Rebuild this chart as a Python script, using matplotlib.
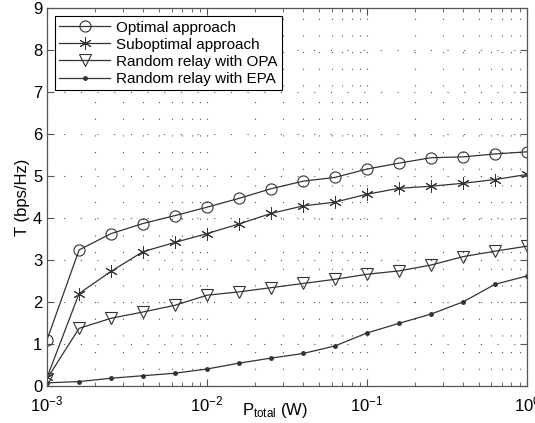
import matplotlib.pyplot as plt
import numpy as np

plt.rcParams['font.family'] = ['Liberation Sans', 'DejaVu Sans']
plt.rcParams['mathtext.fontset'] = 'custom'
plt.rcParams['mathtext.rm'] = 'Liberation Sans'
plt.rcParams['mathtext.it'] = 'Liberation Sans'

# transmit power points (W), 5 per decade
p_exp = [-3.0, -2.8, -2.6, -2.4, -2.2, -2.0, -1.8, -1.6, -1.4, -1.2,
         -1.0, -0.8, -0.6, -0.4, -0.2, 0.0]
p_total = [10 ** e for e in p_exp]

optimal = [1.10, 3.24, 3.63, 3.87, 4.06, 4.26, 4.47, 4.70, 4.88, 4.97,
           5.17, 5.31, 5.44, 5.46, 5.53, 5.58]
suboptimal = [0.20, 2.20, 2.73, 3.20, 3.42, 3.63, 3.86, 4.11, 4.29, 4.38,
              4.57, 4.71, 4.76, 4.83, 4.92, 5.04]
random_opa = [0.17, 1.37, 1.61, 1.76, 1.92, 2.16, 2.24, 2.34, 2.44, 2.54,
              2.66, 2.74, 2.88, 3.08, 3.21, 3.33]
random_epa = [0.07, 0.10, 0.18, 0.24, 0.30, 0.40, 0.54, 0.66, 0.77, 0.95,
              1.26, 1.49, 1.71, 2.00, 2.42, 2.62]

fig = plt.figure(figsize=(5.35, 4.23), dpi=100)
ax = fig.add_axes([0.088, 0.088, 0.897, 0.892])

lc = '#333333'
ax.plot(p_total, optimal, '-o', color=lc, lw=0.9, ms=8, mfc='none', mec=lc, mew=0.8,
        label='Optimal approach')
ax.plot(p_total, suboptimal, '-', marker=(6, 2, 0), color=lc, lw=0.9, ms=9, mec=lc, mew=0.7,
        label='Suboptimal approach')
ax.plot(p_total, random_opa, '-v', color=lc, lw=0.9, ms=8, mfc='none', mec=lc, mew=0.8,
        label='Random relay with OPA')
ax.plot(p_total, random_epa, '-', marker='.', color=lc, lw=0.9, ms=5,
        label='Random relay with EPA')

ax.set_xscale('log')
ax.set_xlim(1e-3, 1)
ax.set_ylim(0, 9)
ax.set_yticks(range(10))
ax.set_xticks([1e-3, 1e-2, 1e-1, 1])

dots = (0, (1, 14))
ax.grid(True, which='major', linestyle=dots, color='#555555', lw=0.8)
ax.grid(True, which='minor', axis='x', linestyle=dots, color='#555555', lw=0.8)
ax.tick_params(which='both', direction='in', top=True, right=True, labelsize=12,
               color='#555555')
ax.tick_params(which='major', length=5)
ax.tick_params(which='minor', length=3)
ax.tick_params(axis='x', pad=6)
for s in ax.spines.values():
    s.set_color('#555555')
    s.set_linewidth(0.9)

ax.set_xlabel(r'P$_{\mathrm{total}}$ (W)', fontsize=12)
ax.xaxis.set_label_coords(0.475, -0.04)
ax.set_ylabel('T (bps/Hz)', fontsize=12, labelpad=2)

leg = ax.legend(loc='upper left', fontsize=11, fancybox=False, framealpha=1,
                edgecolor='black', borderaxespad=0.5, handlelength=3.3,
                handletextpad=0.4, labelspacing=0.2, borderpad=0.3)
leg.get_frame().set_linewidth(0.8)

fig.savefig('out.png', dpi=100)
